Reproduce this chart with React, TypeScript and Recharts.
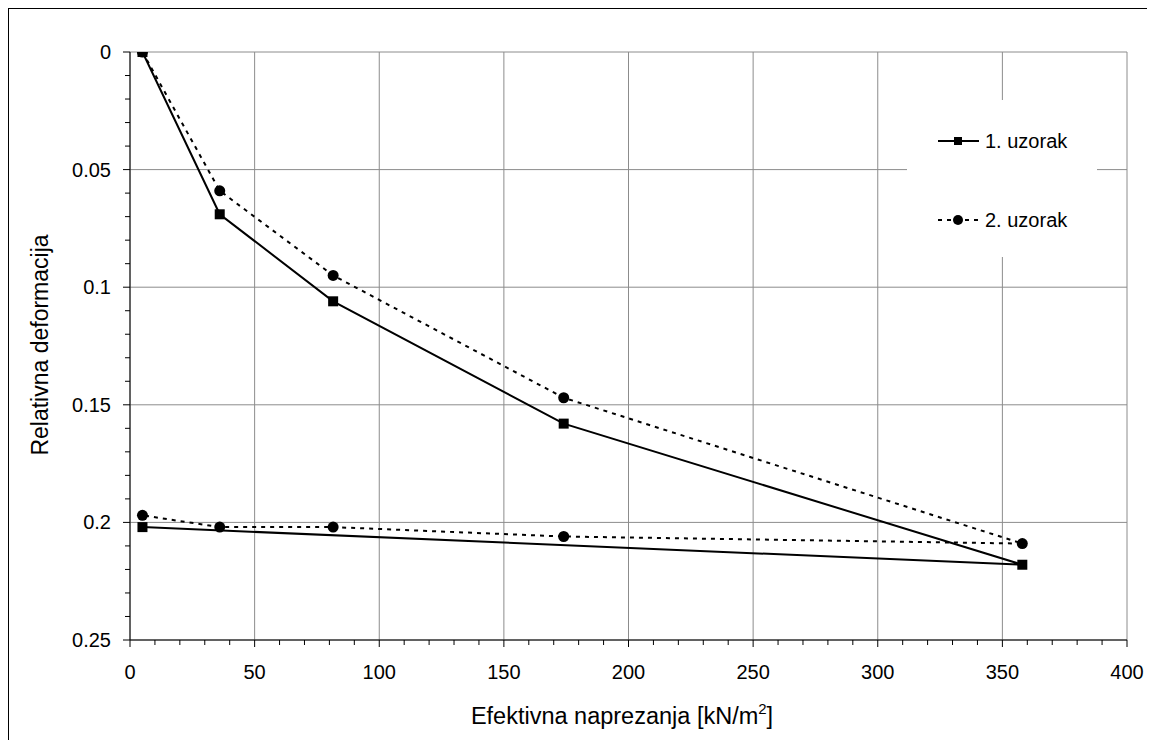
import React from 'react';
import { LineChart, Line, XAxis, YAxis, CartesianGrid, Legend } from 'recharts';

// effective stress [kN/m2] and relative deformation, loading then unloading
const sample1X = [5, 36, 81.5, 174, 358, 5];
const sample1Y = [0, 0.069, 0.106, 0.158, 0.218, 0.202];
const sample2X = [5, 36, 81.5, 174, 358, 174, 81.5, 36, 5];
const sample2Y = [0, 0.059, 0.095, 0.147, 0.209, 0.206, 0.202, 0.202, 0.197];

const seriesNames = ['1. uzorak', '2. uzorak'];

const majorX = [0, 50, 100, 150, 200, 250, 300, 350, 400];
const majorY = [0, 0.05, 0.1, 0.15, 0.2, 0.25];
const yLabels = ['0', '0.05', '0.1', '0.15', '0.2', '0.25'];

const minorX: number[] = [];
for (let i = 0; i <= 40; i++) minorX.push(i * 10);
const minorY: number[] = [];
for (let i = 0; i <= 25; i++) minorY.push(i / 100);

const FONT = '"Liberation Sans", Arial, sans-serif';

const zip = (xs: number[], ys: number[]) => xs.map((x, i) => ({ x, y: ys[i] }));
const data1 = zip(sample1X, sample1Y);
const data2 = zip(sample2X, sample2Y);

const isMajor = (v: number, list: number[]) => list.findIndex((m) => Math.abs(m - v) < 1e-9);

const XTick = (props: any) => {
  const { x, y, payload } = props;
  const idx = isMajor(payload.value, majorX);
  return (
    <g>
      <line x1={x} x2={x} y1={y} y2={y + (idx >= 0 ? 7 : 5)} stroke="#000" />
      {idx >= 0 && (
        <text x={x} y={y + 39} textAnchor="middle" fontSize={20} fontFamily={FONT} fill="#000">
          {majorX[idx]}
        </text>
      )}
    </g>
  );
};

const YTick = (props: any) => {
  const { x, y, payload } = props;
  const idx = isMajor(payload.value, majorY);
  return (
    <g>
      <line x1={x - (idx >= 0 ? 7 : 5)} x2={x} y1={y} y2={y} stroke="#000" />
      {idx >= 0 && (
        <text x={x - 19} y={y + 7} textAnchor="end" fontSize={20} fontFamily={FONT} fill="#000">
          {yLabels[idx]}
        </text>
      )}
    </g>
  );
};

const SquareDot = (props: any) => {
  const { cx, cy, index } = props;
  return <rect key={`sq-${index}`} x={cx - 5} y={cy - 5} width={10} height={10} fill="#000" />;
};

const RoundDot = (props: any) => {
  const { cx, cy, index } = props;
  return <circle key={`ci-${index}`} cx={cx} cy={cy} r={5.5} fill="#000" />;
};

const LegendBox = () => (
  <div style={{ position: 'relative', width: 190, height: 157, background: '#fff', fontFamily: FONT }}>
    {seriesNames.map((name, i) => (
      <svg
        key={name}
        width={190}
        height={24}
        style={{ position: 'absolute', left: 0, top: i === 0 ? 29 : 108 }}
      >
        <line
          x1={31}
          x2={72}
          y1={12}
          y2={12}
          stroke="#000"
          strokeWidth={2}
          strokeDasharray={i === 0 ? undefined : '4 5'}
        />
        {i === 0 ? (
          <rect x={47} y={8} width={8} height={8} fill="#000" />
        ) : (
          <circle cx={51} cy={12} r={5} fill="#000" />
        )}
        <text x={78} y={19} fontSize={20} fontFamily={FONT} fill="#000">
          {name}
        </text>
      </svg>
    ))}
  </div>
);

export default function App() {
  return (
    <div
      style={{
        position: 'relative',
        width: 1146,
        height: 731,
        borderLeft: '1px solid #000',
        borderTop: '1px solid #000',
        background: '#fff',
      }}
    >
      <LineChart width={1140} height={725} margin={{ top: 43, right: 22, left: 41, bottom: 34 }}>
        <CartesianGrid stroke="#8c8c8c" horizontalValues={majorY} verticalValues={majorX} />
        <XAxis
          type="number"
          dataKey="x"
          domain={[0, 400]}
          ticks={minorX}
          interval={0}
          tickSize={0}
          tickMargin={0}
          tickLine={false}
          tick={<XTick />}
          axisLine={{ stroke: '#000' }}
          height={60}
          allowDataOverflow
          label={{
            position: 'bottom',
            content: () => (
              <text x={613} y={715} textAnchor="middle" fontSize={23.5} fontFamily={FONT} fill="#000">
                Efektivna naprezanja [kN/m
                <tspan fontSize={15} dy={-10}>2</tspan>
                <tspan dy={10}>]</tspan>
              </text>
            ),
          }}
        />
        <YAxis
          type="number"
          dataKey="y"
          reversed
          domain={[0, 0.25]}
          ticks={minorY}
          interval={0}
          tickSize={0}
          tickMargin={0}
          tickLine={false}
          tick={<YTick />}
          axisLine={{ stroke: '#000' }}
          width={80}
          allowDataOverflow
          label={{
            position: 'left',
            content: () => (
              <text
                x={39}
                y={336}
                transform="rotate(-90 39 336)"
                textAnchor="middle"
                fontSize={23}
                fontFamily={FONT}
                fill="#000"
              >
                Relativna deformacija
              </text>
            ),
          }}
        />
        <Legend
          layout="vertical"
          align="center"
          verticalAlign="middle"
          content={<LegendBox />}
          wrapperStyle={{ position: 'absolute', left: 898, top: 91, width: 190, height: 157 }}
        />
        <Line
          data={data1}
          dataKey="y"
          name={seriesNames[0]}
          type="linear"
          stroke="#000"
          strokeWidth={2}
          dot={SquareDot}
          activeDot={false}
          isAnimationActive={false}
        />
        <Line
          data={data2}
          dataKey="y"
          name={seriesNames[1]}
          type="linear"
          stroke="#000"
          strokeWidth={2}
          strokeDasharray="4 5"
          dot={RoundDot}
          activeDot={false}
          isAnimationActive={false}
        />
      </LineChart>
    </div>
  );
}
